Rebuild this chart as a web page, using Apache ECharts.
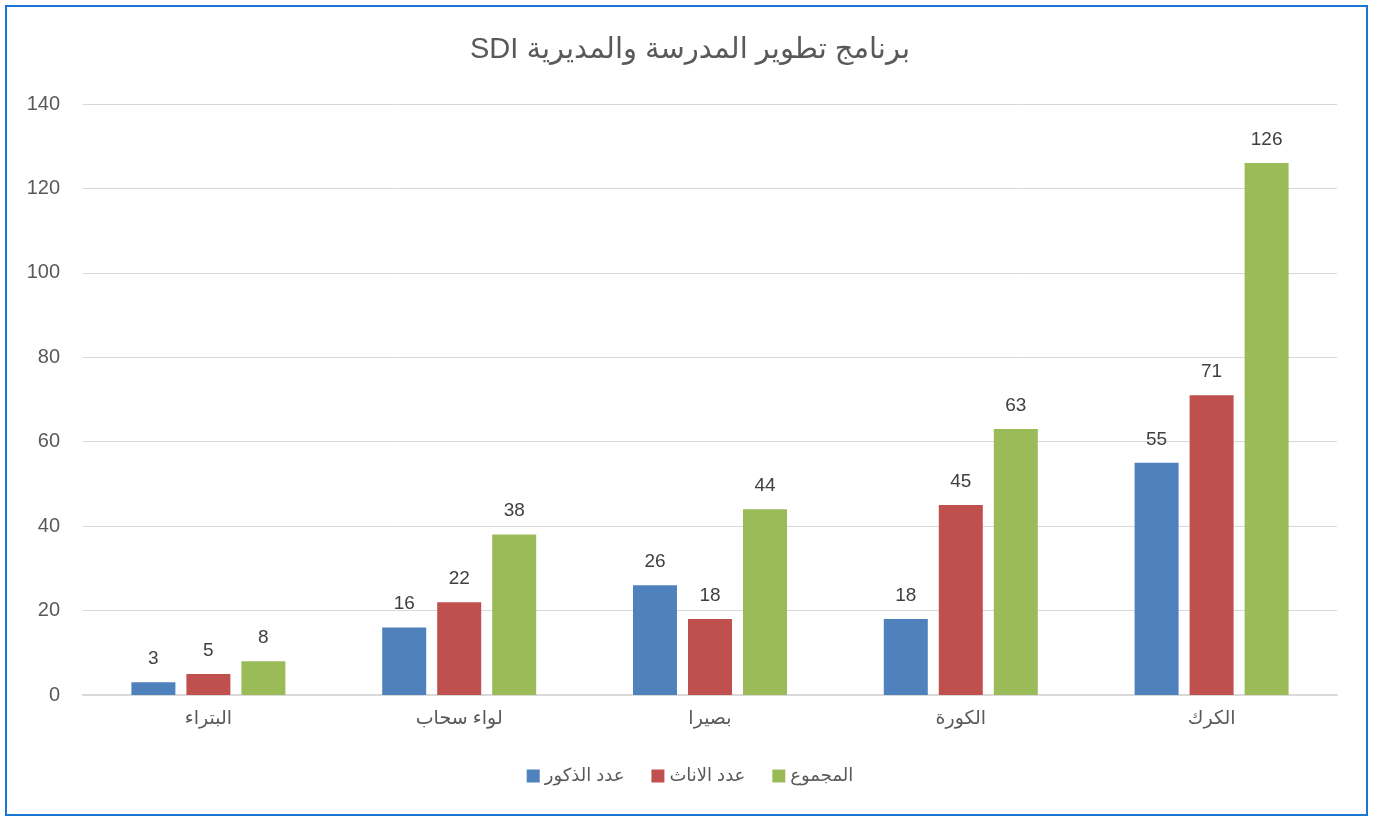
<!DOCTYPE html>
<html>
<head>
<meta charset="utf-8">
<script src="https://cdn.jsdelivr.net/npm/echarts@6/dist/echarts.min.js"></script>
<style>
  html, body { margin: 0; padding: 0; background: #fff; }
  #chart { position: absolute; left: 0; top: 0; width: 1380px; height: 817px; }
  #frame { position: absolute; left: 5px; top: 5px; width: 1359px; height: 807px;
           border: 2px solid #1976d2; pointer-events: none; }
</style>
</head>
<body>
<div id="chart"></div>
<div id="frame"></div>
<script>
const categories = ['البتراء', 'لواء سحاب', 'بصيرا', 'الكورة', 'الكرك'];
const males = [3, 16, 26, 18, 55];
const females = [5, 22, 18, 45, 71];
const totals = [8, 38, 44, 63, 126];
const seriesNames = ['عدد الذكور', 'عدد الاناث', 'المجموع'];
const colors = ['#4f81bd', '#c0504d', '#9bbb59'];

const font = "'Liberation Sans', 'DejaVu Sans', sans-serif";

const chart = echarts.init(document.getElementById('chart'));

function barSeries(name, data, color) {
  return {
    name: name,
    type: 'bar',
    data: data,
    barWidth: 44,
    barGap: '25%',
    itemStyle: { color: color },
    label: {
      show: true,
      position: 'top',
      distance: 14,
      color: '#404040',
      fontSize: 19,
      fontFamily: font
    }
  };
}

chart.setOption({
  animation: false,
  title: {
    // RLE ... PDF keeps the right-to-left order (SDI on the left)
    text: '\u202Bبرنامج تطوير المدرسة والمديرية SDI\u202C',
    left: 'center',
    top: 30,
    textStyle: { color: '#595959', fontSize: 29, fontWeight: 'normal', fontFamily: font }
  },
  legend: {
    bottom: 27,
    left: 'center',
    itemWidth: 13,
    itemHeight: 13,
    itemGap: 27,
    icon: 'rect',
    textStyle: { color: '#595959', fontSize: 18, fontFamily: font }
  },
  grid: { left: 83, right: 43, top: 104, bottom: 122 },
  xAxis: {
    type: 'category',
    data: categories,
    axisTick: { show: false },
    axisLine: { lineStyle: { color: '#d9d9d9', width: 2 } },
    axisLabel: { color: '#595959', fontSize: 19, margin: 14, fontFamily: font }
  },
  yAxis: {
    type: 'value',
    min: 0,
    max: 140,
    interval: 20,
    axisLine: { show: false },
    axisTick: { show: false },
    splitLine: { lineStyle: { color: '#d9d9d9', width: 1 } },
    axisLabel: { color: '#595959', fontSize: 20, margin: 23, fontFamily: font }
  },
  series: [
    barSeries(seriesNames[0], males, colors[0]),
    barSeries(seriesNames[1], females, colors[1]),
    barSeries(seriesNames[2], totals, colors[2])
  ]
});
</script>
</body>
</html>
